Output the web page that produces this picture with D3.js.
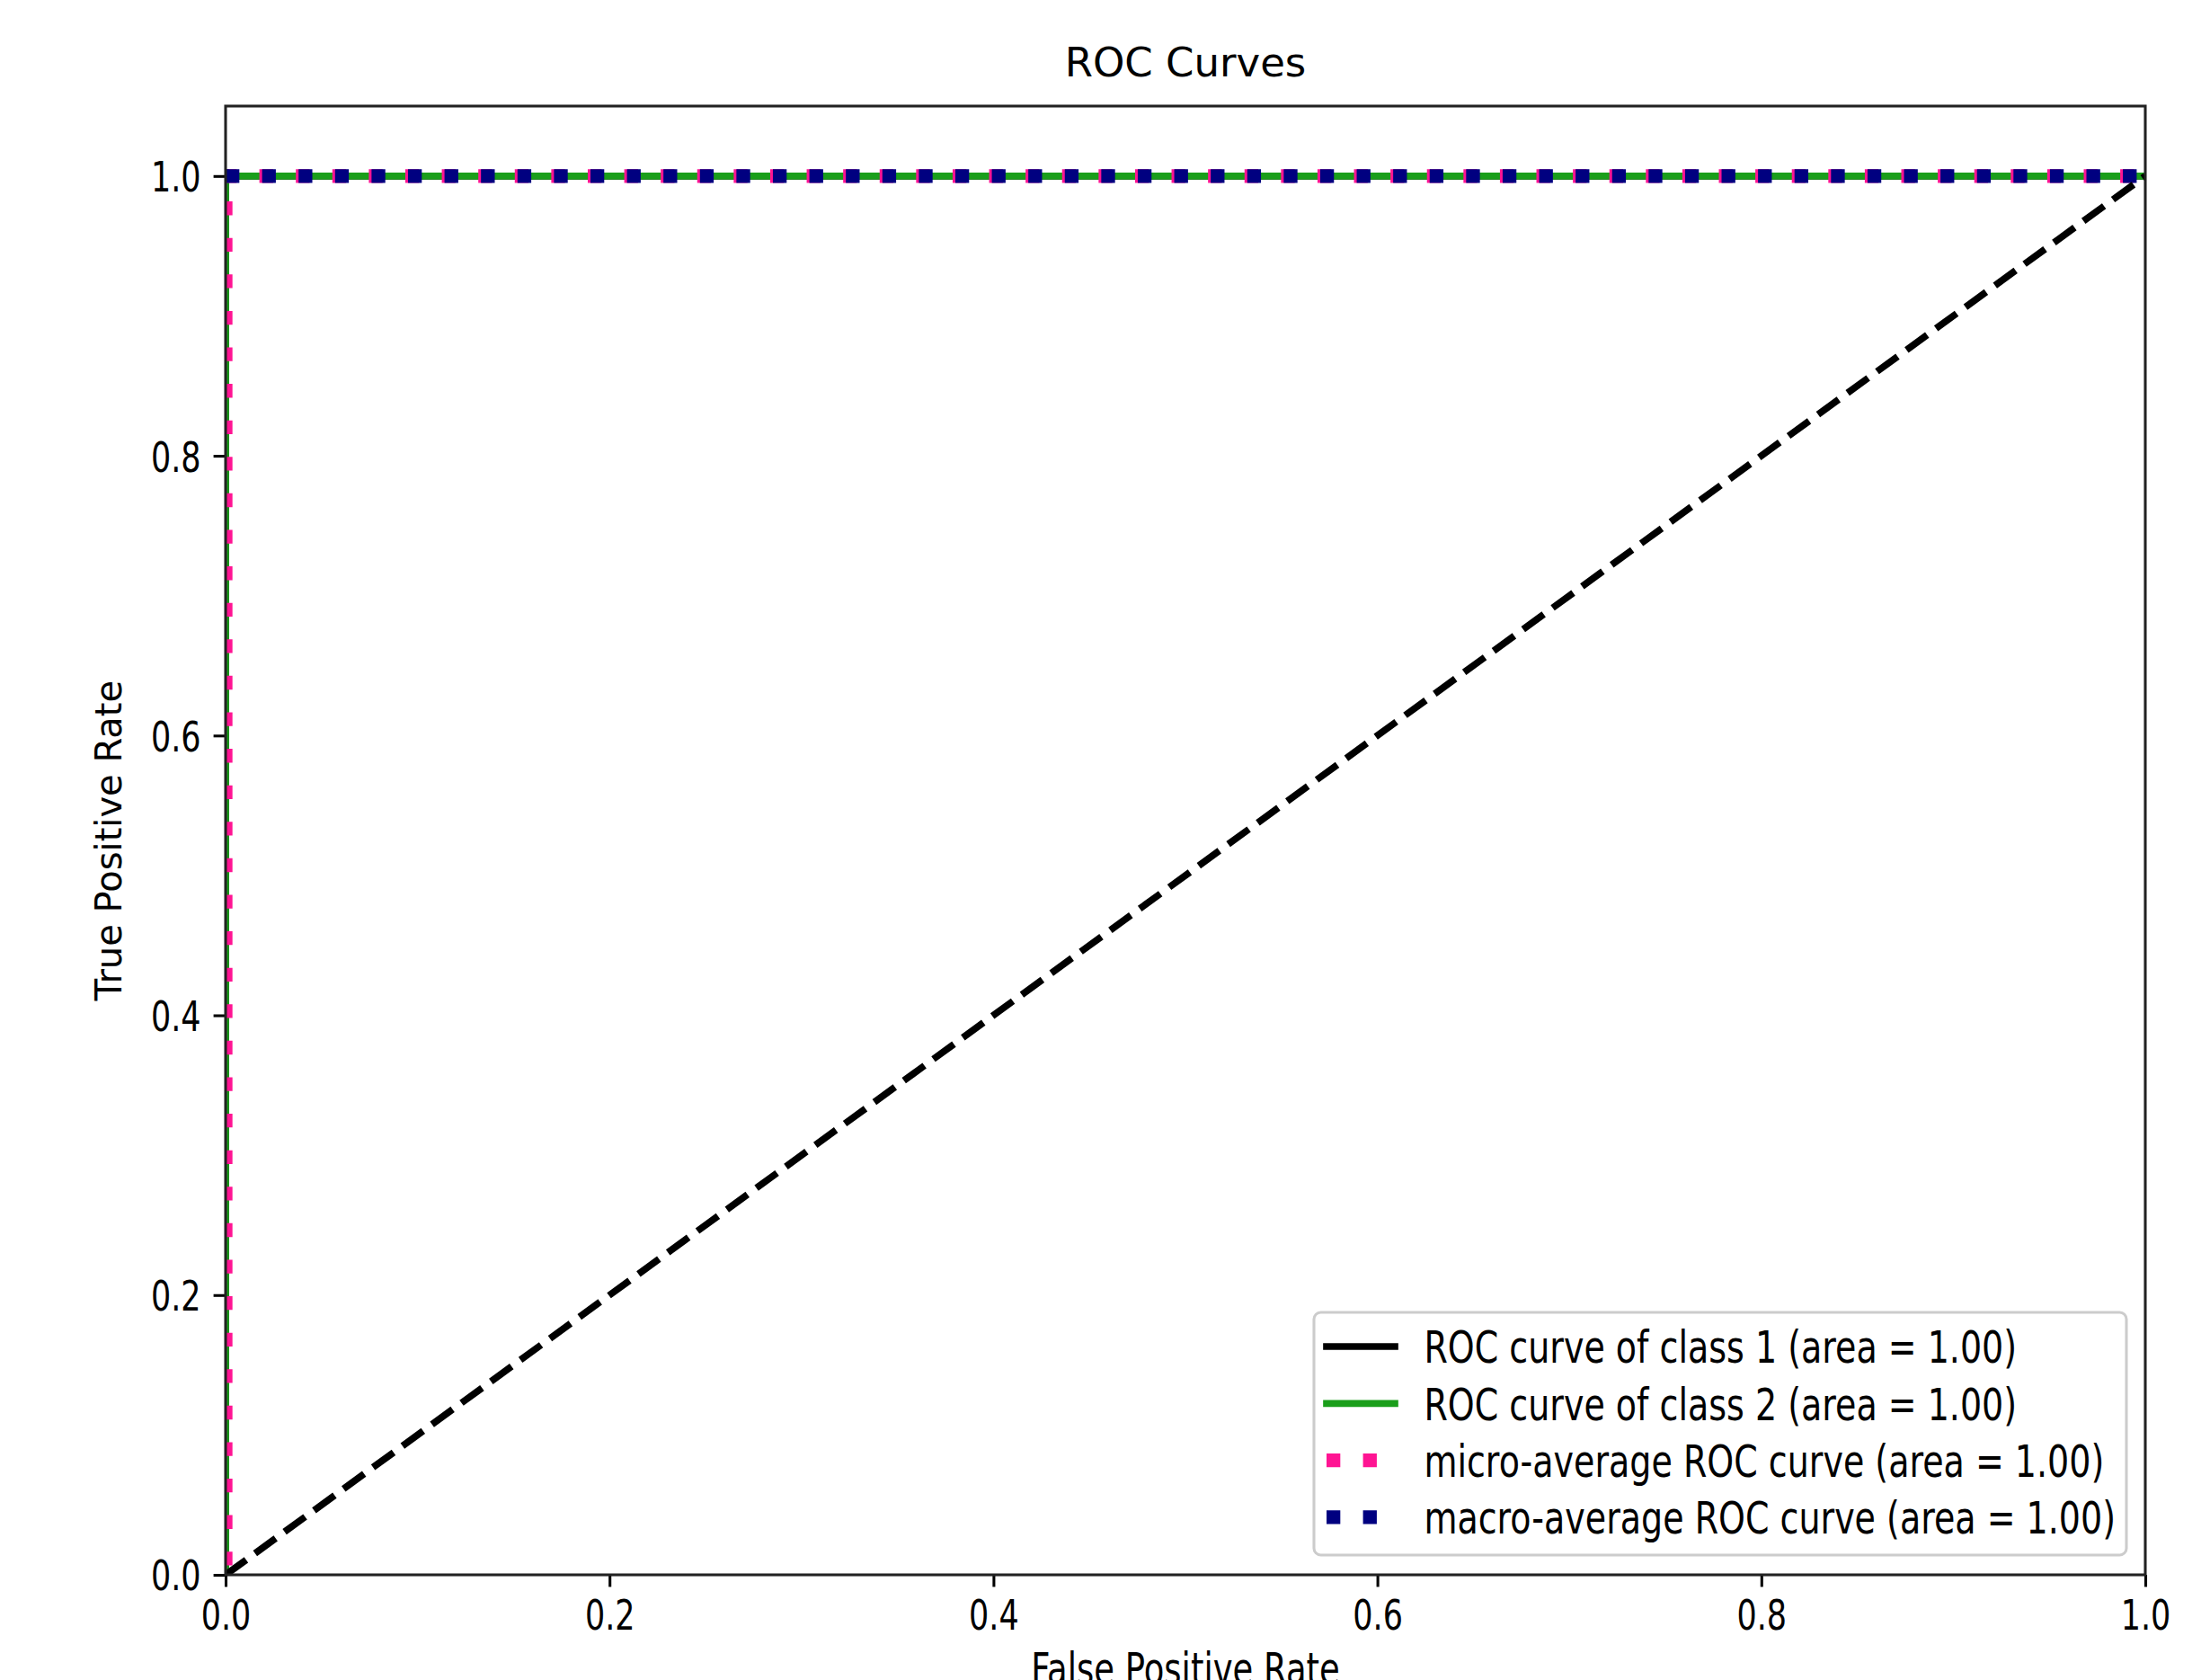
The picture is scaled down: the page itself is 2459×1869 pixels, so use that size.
<!DOCTYPE html>
<html>
<head>
<meta charset="utf-8">
<script src="https://cdn.jsdelivr.net/npm/d3@7"></script>
<style>
  body { margin: 0; background: #fff; }
  svg { display: block; }
</style>
</head>
<body>
<script>
//data
var classes = ["1", "2"];
var classFpr = [[0, 0, 1], [0, 0, 1]];
var classTpr = [[0, 1, 1], [0, 1, 1]];
var classAuc = [1.00, 1.00];
var microFpr = [0, 0, 1];
var microTpr = [0, 1, 1];
var microAuc = 1.00;
var macroFpr = [0, 1];
var macroTpr = [1, 1];
var macroAuc = 1.00;
var chanceFpr = [0, 1];
var chanceTpr = [0, 1];
var xTicks = [0, 0.2, 0.4, 0.6, 0.8, 1.0];
var yTicks = [0, 0.2, 0.4, 0.6, 0.8, 1.0];

//canvas and layout
var width = 2459;
var height = 1869;
var plotLeft = 251, plotTop = 118, plotRight = 2387, plotBottom = 1752;
var pt = 3.83; //pixels per matplotlib point
var font = "DejaVu Sans";
var stretch = 1.33; //the small texts look taller than normal

var canvas = d3.select("body").append("svg")
    .attr("width", width)
    .attr("height", height);

canvas.append("rect").attr("width", width).attr("height", height).attr("fill", "#fff");

var x = d3.scaleLinear().domain([0, 1]).range([plotLeft, plotRight]);
var y = d3.scaleLinear().domain([0, 1.05]).range([plotBottom, plotTop]);

canvas.append("clipPath").attr("id", "plotclip")
    .append("rect")
    .attr("x", plotLeft).attr("y", plotTop)
    .attr("width", plotRight - plotLeft).attr("height", plotBottom - plotTop);

//dash patterns scale with line width, like matplotlib
var thin = 2 * pt;
var thick = 4 * pt;
var dotted = [1 * thick, 1.65 * thick];
var dotPeriod = dotted[0] + dotted[1];
//shift the micro dots so they sit just left of the macro dots on the top line
var verticalRun = y(0) - y(1);
var microOffset = (((3 - verticalRun) % dotPeriod) + dotPeriod) % dotPeriod;

//series list, in drawing order
var classColours = ["#000000", "#1a9e1a"];
var series = [];
for (var i in classes) {
    series.push({
        fpr: classFpr[i], tpr: classTpr[i],
        label: "ROC curve of class " + classes[i] + " (area = " + classAuc[i].toFixed(2) + ")",
        colour: classColours[i], lw: thin, dash: null, offset: 0
    });
}
series.push({ fpr: microFpr, tpr: microTpr, label: "micro-average ROC curve (area = " + microAuc.toFixed(2) + ")",
    colour: "#ff1493", lw: thick, dash: dotted, offset: microOffset });
series.push({ fpr: macroFpr, tpr: macroTpr, label: "macro-average ROC curve (area = " + macroAuc.toFixed(2) + ")",
    colour: "#000080", lw: thick, dash: dotted, offset: 0 });

var line = d3.line()
    .x(function (d) { return x(d[0]); })
    .y(function (d) { return y(d[1]); });

var group = canvas.append("g").attr("clip-path", "url(#plotclip)");

group.selectAll("path.roc")
    .data(series)
    .enter()
    .append("path")
    .attr("class", "roc")
    .attr("d", function (d) { return line(d3.zip(d.fpr, d.tpr)); })
    .attr("fill", "none")
    .attr("stroke", function (d) { return d.colour; })
    .attr("stroke-width", function (d) { return d.lw; })
    .attr("stroke-linejoin", "round")
    .attr("stroke-linecap", function (d) { return d.dash ? "butt" : "square"; })
    .attr("stroke-dasharray", function (d) { return d.dash ? d.dash.join(",") : null; })
    .attr("stroke-dashoffset", function (d) { return d.offset; });

//chance diagonal, k--
group.append("path")
    .attr("d", line(d3.zip(chanceFpr, chanceTpr)))
    .attr("fill", "none")
    .attr("stroke", "#000")
    .attr("stroke-width", thin)
    .attr("stroke-dasharray", [3.7 * thin, 1.6 * thin].join(","));

//axes
var tickLen = 3.5 * pt;
var tickSize = 35;

var xAxis = canvas.append("g")
    .attr("transform", "translate(0," + plotBottom + ")")
    .call(d3.axisBottom(x).tickValues(xTicks).tickFormat(d3.format(".1f")).tickSize(tickLen).tickSizeOuter(0));

var yAxis = canvas.append("g")
    .attr("transform", "translate(" + plotLeft + ",0)")
    .call(d3.axisLeft(y).tickValues(yTicks).tickFormat(d3.format(".1f")).tickSize(tickLen).tickSizeOuter(0));

[xAxis, yAxis].forEach(function (ax) {
    ax.select(".domain").remove();
    ax.selectAll(".tick line").attr("stroke", "#000").attr("stroke-width", 0.8 * pt);
    ax.selectAll(".tick text")
        .attr("fill", "#000")
        .style("font-family", font)
        .style("font-size", tickSize + "px")
        .attr("dy", null).attr("x", 0).attr("y", 0);
});

var capH = 0.729 * tickSize * stretch;
xAxis.selectAll(".tick text")
    .attr("text-anchor", "middle")
    .attr("transform", "translate(0," + (tickLen + 14 + capH) + ") scale(1," + stretch + ")");
yAxis.selectAll(".tick text")
    .attr("text-anchor", "end")
    .attr("transform", "translate(" + (-tickLen - 14) + "," + (capH / 2) + ") scale(1," + stretch + ")");

//spines
canvas.append("rect")
    .attr("x", plotLeft).attr("y", plotTop)
    .attr("width", plotRight - plotLeft).attr("height", plotBottom - plotTop)
    .attr("fill", "none")
    .attr("stroke", "#222")
    .attr("stroke-width", 0.8 * pt);

//title and axis labels
canvas.append("text")
    .attr("x", (plotLeft + plotRight) / 2).attr("y", 85)
    .attr("text-anchor", "middle")
    .style("font-family", font).style("font-size", "45px")
    .text("ROC Curves");

canvas.append("text")
    .attr("transform", "translate(" + ((plotLeft + plotRight) / 2) + "," + (1838 + 0.729 * 37 * stretch) + ") scale(1," + stretch + ")")
    .attr("text-anchor", "middle")
    .style("font-family", font).style("font-size", "37px")
    .text("False Positive Rate");

canvas.append("text")
    .attr("transform", "translate(135," + ((plotTop + plotBottom) / 2) + ") rotate(-90)")
    .attr("text-anchor", "middle")
    .style("font-family", font).style("font-size", "40px")
    .text("True Positive Rate");

//legend, lower right
var legendSize = 38;
var rowGap = 63.3;
var legend = canvas.append("g");

legend.append("rect")
    .attr("x", 1462).attr("y", 1460)
    .attr("width", 2366 - 1462).attr("height", 1730 - 1460)
    .attr("rx", 0.2 * legendSize)
    .attr("fill", "#fff").attr("fill-opacity", 0.8)
    .attr("stroke", "#cccccc").attr("stroke-width", 0.8 * pt);

var rows = legend.selectAll("g.row")
    .data(series)
    .enter()
    .append("g")
    .attr("class", "row")
    .attr("transform", function (d, i) { return "translate(1476," + (1498 + i * rowGap) + ")"; });

rows.append("line")
    .attr("x1", 0).attr("x2", 2 * legendSize)
    .attr("stroke", function (d) { return d.colour; })
    .attr("stroke-width", function (d) { return d.lw; })
    .attr("stroke-linecap", function (d) { return d.dash ? "butt" : "square"; })
    .attr("stroke-dasharray", function (d) { return d.dash ? d.dash.join(",") : null; });

rows.append("text")
    .attr("transform", "translate(" + (2.8 * legendSize + 2) + "," + (0.729 * legendSize * stretch / 2) + ") scale(1," + stretch + ")")
    .style("font-family", font).style("font-size", legendSize + "px")
    .attr("fill", "#000")
    .text(function (d) { return d.label; });
</script>
</body>
</html>
